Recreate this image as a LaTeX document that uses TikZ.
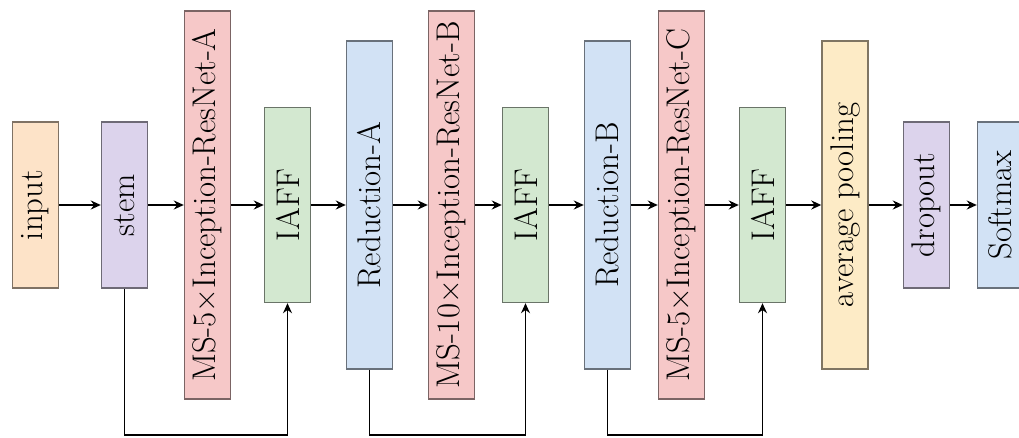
\documentclass[tikz,border=0pt]{standalone}
\usetikzlibrary{arrows.meta}

\definecolor{cinput}{HTML}{FDE3C8}
\definecolor{cstem}{HTML}{DCD3EC}
\definecolor{cms}{HTML}{F6C8C8}
\definecolor{ciaff}{HTML}{D3E8D0}
\definecolor{cred}{HTML}{D2E2F5}
\definecolor{cpool}{HTML}{FDEBC6}

\tikzset{
    blk/.style={draw=#1!50!black, fill=#1, line width=0.7pt, inner sep=0pt,
        minimum width=23pt, font=\fontsize{16.4}{19}\selectfont},
    arr/.style={-{Stealth[length=5pt,width=4.5pt]}, line width=0.8pt},
}
\newcommand{\vtext}[1]{\rotatebox{90}{\makebox[0pt]{#1}}}

\begin{document}
\begin{tikzpicture}[x=0.5pt,y=-0.5pt]
    \useasboundingbox (0,0) rectangle (1019,438);

    % blocks
    \node[blk=cinput, minimum height=83pt] (input) at (35.5,205) {\vtext{input}};
    \node[blk=cstem, minimum height=83pt] (stem) at (124.5,205) {\vtext{stem}};
    \node[blk=cms, minimum height=194pt] (msa) at (207.5,205) {\vtext{MS-5×Inception-ResNet-A}};
    \node[blk=ciaff, minimum height=97.5pt] (iaffa) at (287.5,205) {\vtext{IAFF}};
    \node[blk=cred, minimum height=164pt] (reda) at (369.5,205) {\vtext{Reduction-A}};
    \node[blk=cms, minimum height=194pt] (msb) at (451.5,205) {\vtext{MS-10×Inception-ResNet-B}};
    \node[blk=ciaff, minimum height=97.5pt] (iaffb) at (525.5,205) {\vtext{IAFF}};
    \node[blk=cred, minimum height=164pt] (redb) at (607.5,205) {\vtext{Reduction-B}};
    \node[blk=cms, minimum height=194pt] (msc) at (681.5,205) {\vtext{MS-5×Inception-ResNet-C}};
    \node[blk=ciaff, minimum height=97.5pt] (iaffc) at (762.5,205) {\vtext{IAFF}};
    \node[blk=cpool, minimum height=164pt] (pool) at (845,205) {\vtext{average pooling}};
    \node[blk=cstem, minimum height=83pt] (drop) at (926.5,205) {\vtext{dropout}};
    \node[blk=cred, minimum height=83pt] (soft) at (1000.5,205) {\vtext{Softmax}};

    % main path
    \foreach \a/\b in {input/stem, stem/msa, msa/iaffa, iaffa/reda, reda/msb,
        msb/iaffb, iaffb/redb, redb/msc, msc/iaffc, iaffc/pool, pool/drop, drop/soft}
        \draw[arr] (\a) -- (\b);

    % skip connections
    \coordinate (bot) at (0,435);
    \draw[arr] (stem.south) -- (stem.south |- bot) -| (iaffa.south);
    \draw[arr] (reda.south) -- (reda.south |- bot) -| (iaffb.south);
    \draw[arr] (redb.south) -- (redb.south |- bot) -| (iaffc.south);
\end{tikzpicture}
\end{document}
